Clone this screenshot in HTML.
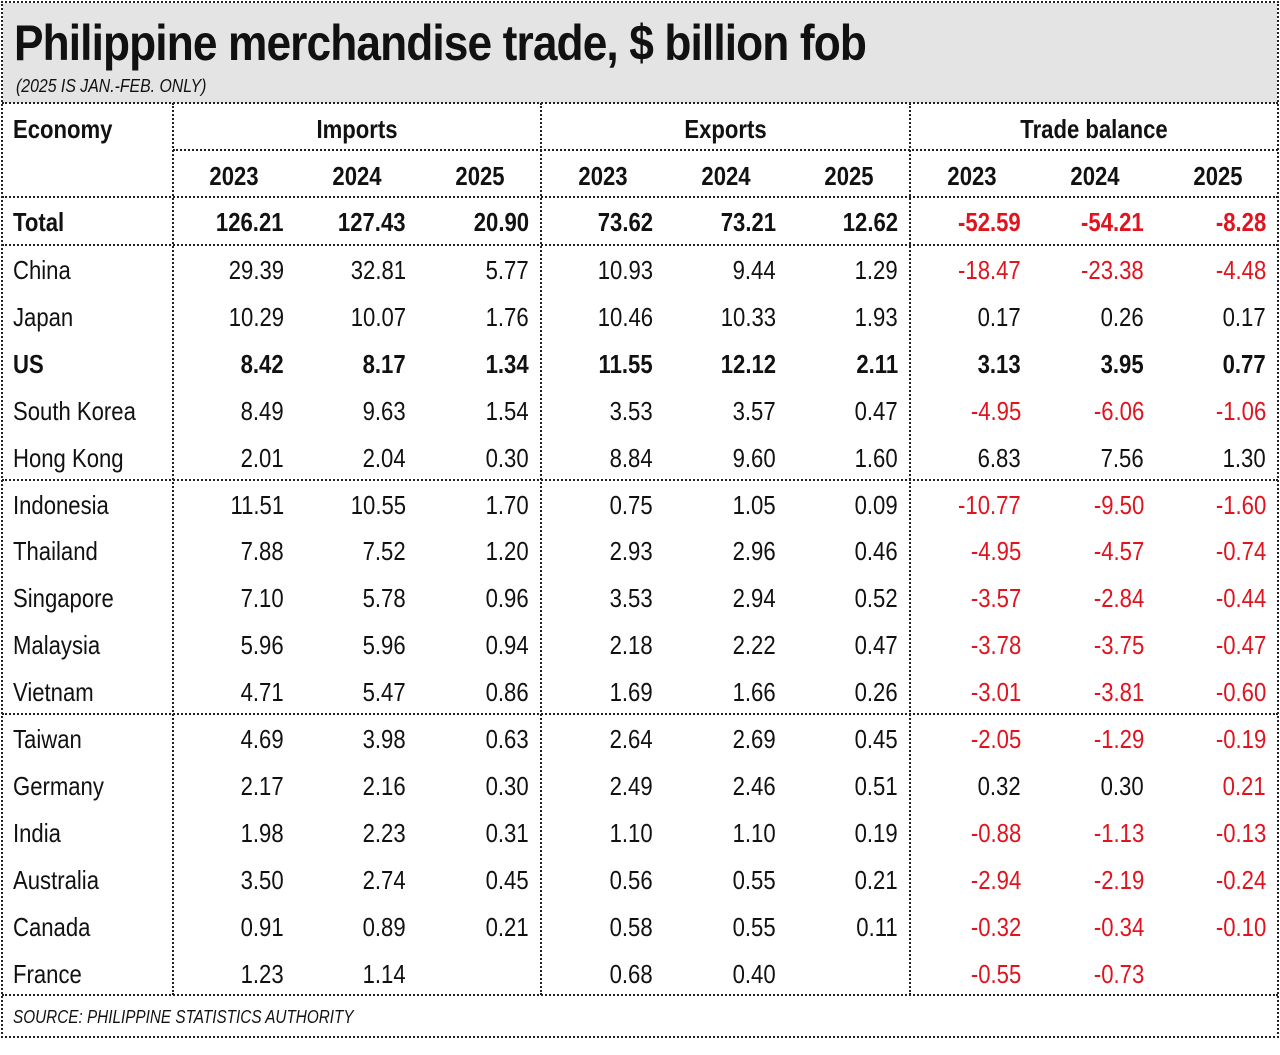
<!DOCTYPE html>
<html><head><meta charset="utf-8"><style>
*{margin:0;padding:0;box-sizing:border-box}
body{width:1280px;height:1055px;background:#fff;font-family:"Liberation Sans Narrow","Liberation Sans",sans-serif;color:#111;position:relative;overflow:hidden}
.frame{position:absolute;left:1px;top:1px;width:1278px;height:1037px;border:2px dotted #222}
.title{position:absolute;left:3px;top:3px;width:1274px;height:100px;background:#e4e4e4}
.title h1{position:absolute;left:11px;top:12px;font-size:50px;font-weight:bold;letter-spacing:-1px;line-height:56px;white-space:nowrap;transform:scaleX(0.885);transform-origin:left center}
.title p{position:absolute;left:13px;top:72px;font-size:18px;font-style:italic;line-height:22px;transform:scaleX(0.88);transform-origin:left center;white-space:nowrap}
.h{position:absolute;border-top:2px dotted #222}
.v{position:absolute;border-left:2px dotted #222}
.c{position:absolute;font-size:26px;line-height:30px;white-space:nowrap}
.L{transform:scaleX(0.85);transform-origin:left center}
.R{transform:scaleX(0.85);transform-origin:right center}
.C{transform:scaleX(0.85);transform-origin:center center}
.b{font-weight:bold}
.r{color:#e0141e}
</style></head><body>
<div class="title"><h1>Philippine merchandise trade, $ billion fob</h1><p>(2025 IS JAN.-FEB. ONLY)</p></div>
<div class="frame"></div>
<div class="h" style="left:2px;top:102px;width:1276px"></div>
<div class="h" style="left:173px;top:149px;width:1105px"></div>
<div class="h" style="left:2px;top:196px;width:1276px"></div>
<div class="h" style="left:2px;top:244px;width:1276px"></div>
<div class="h" style="left:2px;top:479px;width:1276px"></div>
<div class="h" style="left:2px;top:713px;width:1276px"></div>
<div class="h" style="left:2px;top:994px;width:1276px"></div>
<div class="v" style="left:172px;top:103px;height:892px"></div>
<div class="v" style="left:540px;top:103px;height:892px"></div>
<div class="v" style="left:909px;top:103px;height:892px"></div>
<div class="c b L" style="left:13px;top:114px">Economy</div>
<div class="c b C" style="left:173px;width:368px;text-align:center;top:114px">Imports</div>
<div class="c b C" style="left:541px;width:369px;text-align:center;top:114px">Exports</div>
<div class="c b C" style="left:910px;width:368px;text-align:center;top:114px">Trade balance</div>
<div id="g"></div>
<div class="c L" style="left:13px;top:1006px;font-size:18px;font-style:italic;line-height:22px">SOURCE: PHILIPPINE STATISTICS AUTHORITY</div>
<script>
(function(){
var rows=[
["Total",1,"126.21","127.43","20.90","73.62","73.21","12.62","-52.59","-54.21","-8.28"],
["China",0,"29.39","32.81","5.77","10.93","9.44","1.29","-18.47","-23.38","-4.48"],
["Japan",0,"10.29","10.07","1.76","10.46","10.33","1.93","0.17","0.26","0.17"],
["US",1,"8.42","8.17","1.34","11.55","12.12","2.11","3.13","3.95","0.77"],
["South Korea",0,"8.49","9.63","1.54","3.53","3.57","0.47","-4.95","-6.06","-1.06"],
["Hong Kong",0,"2.01","2.04","0.30","8.84","9.60","1.60","6.83","7.56","1.30"],
["Indonesia",0,"11.51","10.55","1.70","0.75","1.05","0.09","-10.77","-9.50","-1.60"],
["Thailand",0,"7.88","7.52","1.20","2.93","2.96","0.46","-4.95","-4.57","-0.74"],
["Singapore",0,"7.10","5.78","0.96","3.53","2.94","0.52","-3.57","-2.84","-0.44"],
["Malaysia",0,"5.96","5.96","0.94","2.18","2.22","0.47","-3.78","-3.75","-0.47"],
["Vietnam",0,"4.71","5.47","0.86","1.69","1.66","0.26","-3.01","-3.81","-0.60"],
["Taiwan",0,"4.69","3.98","0.63","2.64","2.69","0.45","-2.05","-1.29","-0.19"],
["Germany",0,"2.17","2.16","0.30","2.49","2.46","0.51","0.32","0.30","0.21"],
["India",0,"1.98","2.23","0.31","1.10","1.10","0.19","-0.88","-1.13","-0.13"],
["Australia",0,"3.50","2.74","0.45","0.56","0.55","0.21","-2.94","-2.19","-0.24"],
["Canada",0,"0.91","0.89","0.21","0.58","0.55","0.11","-0.32","-0.34","-0.10"],
["France",0,"1.23","1.14","","0.68","0.40","","-0.55","-0.73",""]];
var rights=[284,406,529,653,776,898,1021,1144,1266];
var centers=[234,357,480,603,726,849,972,1095,1218];
var years=["2023","2024","2025"];
var h="";
for(var i=0;i<9;i++)h+='<div class="c b C" style="left:'+(centers[i]-60)+'px;width:120px;text-align:center;top:161px">'+years[i%3]+'</div>';
for(var r=0;r<rows.length;r++){
 var R=rows[r];var cy=r==0?222:270+(r-1)*46.9;var ty=Math.round(cy-15);var bc=R[1]?" b":"";
 h+='<div class="c L'+bc+'" style="left:13px;top:'+ty+'px">'+R[0]+'</div>';
 for(var k=0;k<9;k++){var v=R[k+2];if(!v)continue;var red=(k>=6&&v.charAt(0)=="-")||(k==8&&r==12)?" r":"";
  h+='<div class="c R'+bc+red+'" style="right:'+(1280-rights[k])+'px;top:'+ty+'px">'+v+'</div>';}
}
document.getElementById("g").innerHTML=h;
})();
</script>
</body></html>
